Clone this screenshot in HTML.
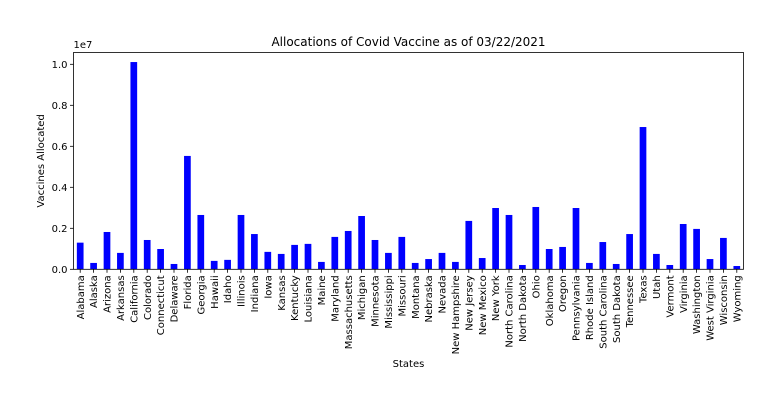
<!DOCTYPE html>
<html><head><meta charset="utf-8"><style>body{margin:0;background:#fff}svg{display:block;font-family:"DejaVu Sans","Liberation Sans",sans-serif}</style></head>
<body>
<svg id="chart" width="778" height="405" xmlns="http://www.w3.org/2000/svg">
<rect width="778" height="405" fill="#fff"/>
<g id="plot"></g>
</svg>
<script>
const states=["Alabama","Alaska","Arizona","Arkansas","California","Colorado","Connecticut","Delaware","Florida","Georgia","Hawaii","Idaho","Illinois","Indiana","Iowa","Kansas","Kentucky","Louisiana","Maine","Maryland","Massachusetts","Michigan","Minnesota","Mississippi","Missouri","Montana","Nebraska","Nevada","New Hampshire","New Jersey","New Mexico","New York","North Carolina","North Dakota","Ohio","Oklahoma","Oregon","Pennsylvania","Rhode Island","South Carolina","South Dakota","Tennessee","Texas","Utah","Vermont","Virginia","Washington","West Virginia","Wisconsin","Wyoming"];
const allocations=[1.30,0.31,1.82,0.80,10.11,1.43,0.99,0.26,5.53,2.65,0.41,0.46,2.65,1.72,0.85,0.75,1.19,1.24,0.36,1.58,1.87,2.60,1.43,0.80,1.58,0.31,0.50,0.80,0.36,2.36,0.55,2.99,2.65,0.21,3.04,0.99,1.09,2.99,0.31,1.33,0.26,1.72,6.94,0.75,0.21,2.21,1.97,0.50,1.53,0.16];
const yTicks=[0,2,4,6,8,10];
const yTickLabels=["0.0","0.2","0.4","0.6","0.8","1.0"];
const NS="http://www.w3.org/2000/svg";
const L=73.5,R=743.5,T=52.5,B=269.3;
const step=(R-L)/states.length;
const x=i=>L+step*(i+0.5);
const y=v=>B-v*(B-64.3)/10;
const g=document.getElementById('plot');
function mk(t,a,txt){const e=document.createElementNS(NS,t);for(const k in a)e.setAttribute(k,a[k]);if(txt!==undefined)e.textContent=txt;g.appendChild(e);return e;}
allocations.forEach((v,i)=>{
 const r=mk('rect',{x:x(i)-step*0.25,y:y(v),width:step*0.5,height:B-y(v),fill:'#0000ff'});
 
 
});
mk('rect',{x:L,y:T,width:R-L,height:B-T,fill:'none',stroke:'#000','stroke-width':0.8});
states.forEach((s,i)=>{
 mk('line',{x1:x(i),x2:x(i),y1:B,y2:B+3.5,stroke:'#000','stroke-width':0.8});
 const t=mk('text',{transform:`translate(${x(i)+3.6},${B+6}) rotate(-90)`,'text-anchor':'end','font-size':10},s);
 
 
});
yTicks.forEach((v,i)=>{
 mk('line',{x1:L-3.5,x2:L,y1:y(v),y2:y(v),stroke:'#000','stroke-width':0.8});
 const t=mk('text',{x:L-6,y:y(v)+3.6,'text-anchor':'end','font-size':10},yTickLabels[i]);
 
 
});
let t=mk('text',{x:L,y:48,'font-size':10},'1e7');

t=mk('text',{x:(L+R)/2,y:46,'text-anchor':'middle','font-size':12},'Allocations of Covid Vaccine as of 03/22/2021');

t=mk('text',{x:(L+R)/2,y:367,'text-anchor':'middle','font-size':10},'States');

t=mk('text',{transform:`translate(44,${(T+B)/2}) rotate(-90)`,'text-anchor':'middle','font-size':10},'Vaccines Allocated');

</script>
</body></html>
